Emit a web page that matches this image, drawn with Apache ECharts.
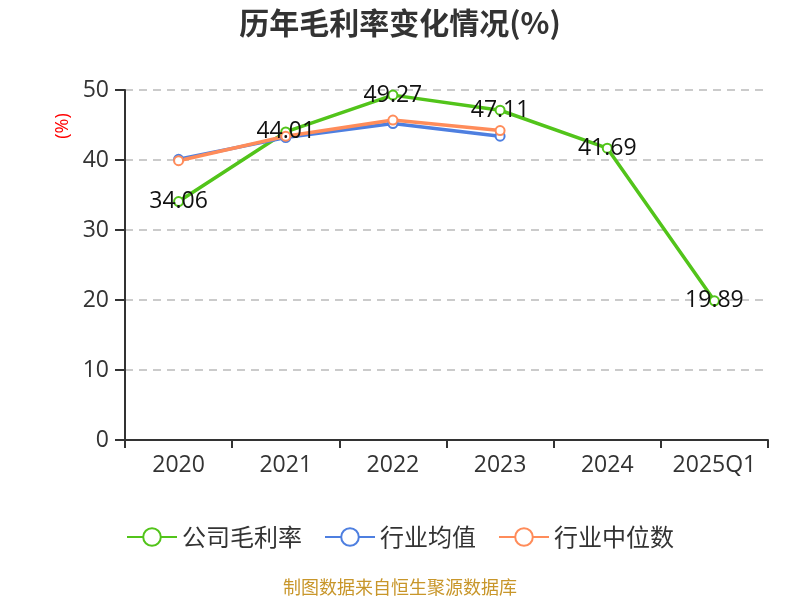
<!DOCTYPE html>
<html><head><meta charset="utf-8">
<script src="https://cdn.jsdelivr.net/npm/echarts@6/dist/echarts.min.js"></script>
<style>html,body{margin:0;padding:0;background:#fff}#c{width:800px;height:600px}</style>
</head><body><div id="c"></div>
<script>
var categories = ['2020','2021','2022','2023','2024','2025Q1'];
var companyMargin = [34.06, 44.01, 49.27, 47.11, 41.69, 19.89];
var industryAvg = [40.1, 43.2, 45.2, 43.4, null, null];
var industryMedian = [39.9, 43.4, 45.7, 44.2, null, null];
var yTicks = {min: 0, max: 50, interval: 10};

var chart = echarts.init(document.getElementById('c'));
var font = '"Open Sans","Noto Sans CJK SC",sans-serif';
var cjk = '"Noto Sans CJK SC",sans-serif';
chart.setOption({
  animation: false,
  title: {text: '历年毛利率变化情况(%)', left: 'center', top: 3,
    textStyle: {fontSize: 30, fontWeight: 'bold', color: '#333', fontFamily: cjk}},
  legend: {bottom: 46, itemWidth: 50, itemHeight: 22, itemGap: 22,
    textStyle: {fontSize: 24, color: '#333', fontFamily: cjk},
    data: ['公司毛利率','行业均值','行业中位数']},
  graphic: [
    {type: 'text', left: 'center', bottom: 4,
      style: {text: '制图数据来自恒生聚源数据库', fill: '#c8962a', fontSize: 18, fontFamily: cjk}},
    {type: 'text', x: 63, y: 126, rotation: Math.PI / 2,
      style: {text: '(%)', fill: 'red', fontSize: 18, align: 'center', verticalAlign: 'middle', fontFamily: font}}
  ],
  grid: {left: 125, right: 32, top: 90, bottom: 160},
  xAxis: {type: 'category', data: categories, boundaryGap: true,
    axisLine: {lineStyle: {color: '#333', width: 2}},
    axisTick: {show: true, interval: 0, length: 8, lineStyle: {color: '#333', width: 2}},
    axisLabel: {interval: 0, fontSize: 23, color: '#333', margin: 14, fontFamily: font}},
  yAxis: {type: 'value', min: yTicks.min, max: yTicks.max, interval: yTicks.interval,
    axisLine: {show: true, lineStyle: {color: '#333', width: 2}},
    axisTick: {show: true, length: 10, lineStyle: {color: '#333', width: 2}},
    axisLabel: {fontSize: 23, color: '#333', margin: 16, fontFamily: font},
    splitLine: {lineStyle: {type: [8, 6], color: '#bbb', width: 1.5}}},
  series: [
    {name: '公司毛利率', type: 'line', data: companyMargin, color: '#52c41a',
      symbol: 'emptyCircle', symbolSize: 9, lineStyle: {width: 3.5},
      label: {show: true, position: 'inside', fontSize: 23, color: '#111', fontFamily: font}},
    {name: '行业均值', type: 'line', data: industryAvg, color: '#4e7fe0',
      symbol: 'emptyCircle', symbolSize: 9, lineStyle: {width: 3.5}},
    {name: '行业中位数', type: 'line', data: industryMedian, color: '#ff8c5a',
      symbol: 'emptyCircle', symbolSize: 9, lineStyle: {width: 3.5}}
  ]
});
</script></body></html>
